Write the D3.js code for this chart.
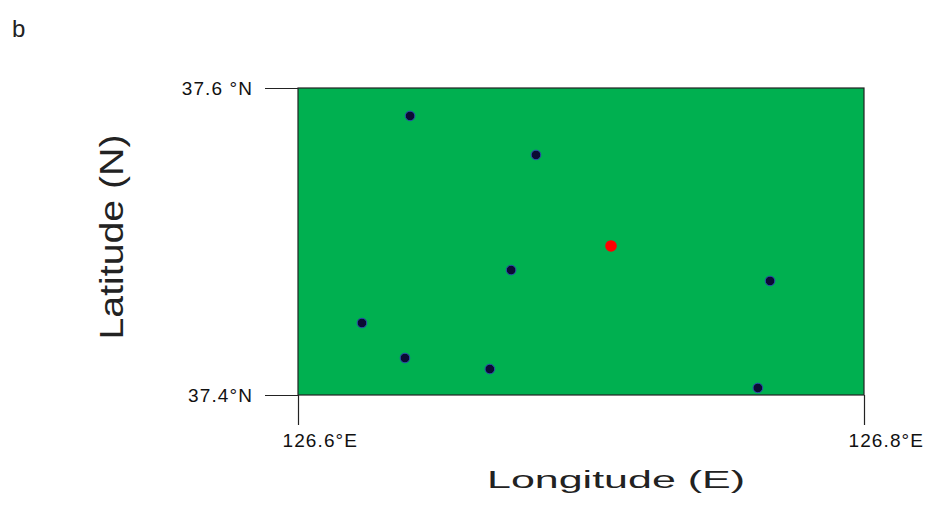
<!DOCTYPE html>
<html>
<head>
<meta charset="utf-8">
<script src="https://cdn.jsdelivr.net/npm/d3@7"></script>
<style>
  body { margin: 0; background: #fff; }
  svg { font-family: "Liberation Sans", Arial, sans-serif; }
</style>
</head>
<body>
<svg></svg>
<script>
const lonDomain = [126.6, 126.8];
const latDomain = [37.4, 37.6];
const lonTicks = [126.6, 126.8];
const lonTickLabels = ["126.6°E", "126.8°E"];
const latTicks = [37.4, 37.6];
const latTickLabels = ["37.4°N", "37.6 °N"];

// stations
const stationLon = [126.6396, 126.6841, 126.6753, 126.7668, 126.6226, 126.6378, 126.6678, 126.7625];
const stationLat = [37.5818, 37.5564, 37.4814, 37.4743, 37.4469, 37.4241, 37.4169, 37.4046];
// center site
const centerLon = [126.7106];
const centerLat = [37.4971];

const W = 931, H = 507;
const svg = d3.select("svg").attr("width", W).attr("height", H);
const m = { left: 298, right: 864, top: 88, bottom: 395 };

const x = d3.scaleLinear().domain(lonDomain).range([m.left, m.right]);
const y = d3.scaleLinear().domain(latDomain).range([m.bottom, m.top]);

svg.append("rect")
  .attr("x", m.left).attr("y", m.top)
  .attr("width", m.right - m.left).attr("height", m.bottom - m.top)
  .attr("fill", "#00b050").attr("stroke", "#222").attr("stroke-width", 1.2);

const xAxis = d3.axisBottom(x).tickValues(lonTicks)
  .tickFormat((d, i) => lonTickLabels[i]).tickSize(30).tickPadding(9);
const gx = svg.append("g").attr("transform", `translate(0,${m.bottom})`).call(xAxis);
gx.select(".domain").remove();
gx.selectAll(".tick line").attr("stroke", "#222").attr("stroke-width", 1.2);
gx.selectAll(".tick text").attr("font-size", 19).attr("letter-spacing", 1.1).attr("fill", "#111")
  .attr("text-anchor", "start").attr("x", -16)
  .attr("font-family", "Liberation Sans, Arial, sans-serif");

const yAxis = d3.axisLeft(y).tickValues(latTicks)
  .tickFormat((d, i) => latTickLabels[i]).tickSize(33).tickPadding(12);
const gy = svg.append("g").attr("transform", `translate(${m.left},0)`).call(yAxis);
gy.select(".domain").remove();
gy.selectAll(".tick line").attr("stroke", "#222").attr("stroke-width", 1.2);
gy.selectAll(".tick text").attr("font-size", 19).attr("letter-spacing", 1.1).attr("fill", "#111")
  .attr("font-family", "Liberation Sans, Arial, sans-serif");

svg.append("g").selectAll("circle")
  .data(stationLon.map((d, i) => [d, stationLat[i]]))
  .join("circle")
  .attr("cx", d => x(d[0])).attr("cy", d => y(d[1]))
  .attr("r", 4.8)
  .attr("fill", "#0b0b33").attr("stroke", "#2d4fb0").attr("stroke-width", 1);

svg.append("g").selectAll("circle")
  .data(centerLon.map((d, i) => [d, centerLat[i]]))
  .join("circle")
  .attr("cx", d => x(d[0])).attr("cy", d => y(d[1]))
  .attr("r", 5.8)
  .attr("fill", "#ff0000");

svg.append("text")
  .attr("x", 616).attr("y", 488)
  .attr("text-anchor", "middle")
  .attr("font-size", 23).attr("fill", "#222")
  .attr("textLength", 258).attr("lengthAdjust", "spacingAndGlyphs")
  .text("Longitude (E)");

svg.append("text")
  .attr("transform", `translate(123,237) rotate(-90)`)
  .attr("text-anchor", "middle")
  .attr("font-size", 33).attr("fill", "#222")
  .attr("textLength", 205).attr("lengthAdjust", "spacingAndGlyphs")
  .text("Latitude (N)");

svg.append("text")
  .attr("x", 12).attr("y", 37)
  .attr("font-size", 24).attr("fill", "#222")
  .text("b");
</script>
</body>
</html>
